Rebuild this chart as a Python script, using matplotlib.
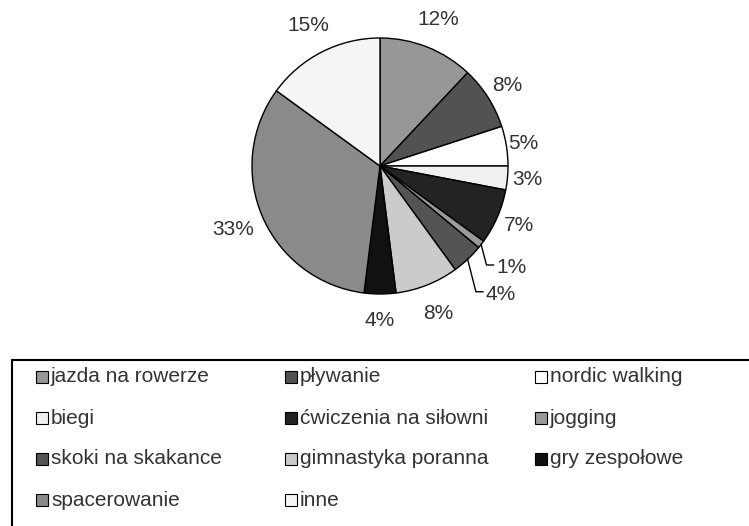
import numpy as np
import matplotlib
matplotlib.use("Agg")
import matplotlib.pyplot as plt
from matplotlib.patches import Rectangle

plt.rcParams['font.family'] = ['Liberation Sans', 'DejaVu Sans']

# data
activities = ["jazda na rowerze", "pływanie", "nordic walking", "biegi",
              "ćwiczenia na siłowni", "jogging", "skoki na skakance",
              "gimnastyka poranna", "gry zespołowe", "spacerowanie", "inne"]
shares = [12, 8, 5, 3, 7, 1, 4, 8, 4, 33, 15]
colors = ["#979797", "#525252", "#ffffff", "#f0f0f0", "#232323", "#9a9a9a",
          "#545454", "#cbcbcb", "#111111", "#8a8a8a", "#f5f5f5"]

# style: how far each label sits from the centre (in radii)
label_dist = [1.23, 1.18, 1.13, 1.16, 1.18, 1.30, 1.38, 1.24, 1.21, 1.25, 1.23]
leader = [5, 6]  # labels with a leader line

W, H = 749, 526
cx, cy, R = 380, H - 166, 128

fig = plt.figure(figsize=(W / 100, H / 100), dpi=100)
ax = fig.add_axes([0, 0, 1, 1])

wedges, _ = ax.pie(shares, colors=colors, center=(cx, cy), radius=R,
                   startangle=90, counterclock=False, frame=True,
                   wedgeprops=dict(edgecolor="black", linewidth=1.0))
ax.set_xlim(0, W)
ax.set_ylim(0, H)
ax.axis("off")

txt_col = "#333333"
for i, (w, v) in enumerate(zip(wedges, shares)):
    mid = np.deg2rad((w.theta1 + w.theta2) / 2)
    d = label_dist[i]
    lx = cx + d * R * np.cos(mid)
    ly = cy + d * R * np.sin(mid)
    ax.text(lx, ly, f"{v}%", fontsize=15, color=txt_col,
            ha="center", va="center")
    if i in leader:
        ex = cx + R * np.cos(mid)
        ey = cy + R * np.sin(mid)
        ax.plot([ex, lx - 25, lx - 18], [ey, ly + 3, ly + 3],
                color="black", linewidth=1.0)

# legend box (runs off the right and bottom edges)
ax.add_patch(Rectangle((12, -20), W + 20, H - 360 + 20, fill=False,
                       edgecolor="black", linewidth=1.5, clip_on=False))

col_x = [36, 285, 535]
row_y = [377, 418, 459, 500]
for i, (name, c) in enumerate(zip(activities, colors)):
    x0 = col_x[i % 3]
    y0 = H - row_y[i // 3]
    ax.add_patch(Rectangle((x0, y0 - 6), 12, 12, facecolor=c,
                           edgecolor="black", linewidth=0.8))
    ax.text(x0 + 15, y0, name, fontsize=15, color=txt_col,
            ha="left", va="center")

fig.savefig("out.png", dpi=100)
